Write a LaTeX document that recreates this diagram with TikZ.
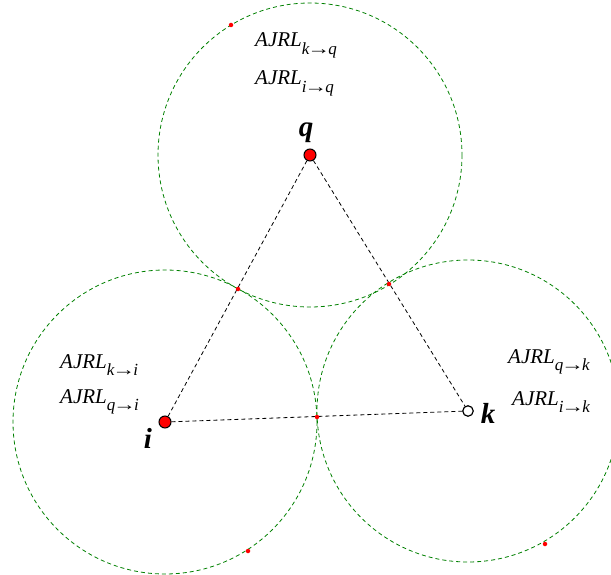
\documentclass[tikz,border=0pt]{standalone}
\usepackage{fontspec}
\setmainfont{Liberation Serif}
\newcommand\ajrl[2]{\textit{AJRL}\raisebox{-0.36em}{\fontsize{17}{17}\selectfont\textit{#1}\kern-2.2pt\scalebox{1.35}[1]{→}\kern-2pt\textit{#2}}}
\tikzset{
  ring/.style={draw=green!50!black, dashed, dash pattern=on 4pt off 3pt, line width=0.8pt},
  link/.style={draw=black, dash pattern=on 4pt off 3pt, line width=0.8pt},
  agent/.style={circle, draw=black, fill=red, line width=1pt, minimum size=12pt, inner sep=0pt},
  openagent/.style={circle, draw=black, fill=white, line width=1.2pt, minimum size=10.5pt, inner sep=0pt},
  pt/.style={circle, fill=red, minimum size=4.5pt, inner sep=0pt},
  lbl/.style={font=\fontsize{29}{29}\selectfont\bfseries\itshape, inner sep=0pt},
  txt/.style={font=\fontsize{21}{21}\selectfont, inner sep=0pt, anchor=base west}
}
\begin{document}
\begin{tikzpicture}[x=1pt,y=-1pt]
\useasboundingbox (0,0) rectangle (611,575);
\draw[ring] (310,155) circle[radius=152];
\draw[ring] (165,422) circle[radius=152];
\draw[ring] (468,411) circle[radius=151];
\node[agent] (q) at (310,155) {};
\node[agent] (i) at (165,422) {};
\node[openagent] (k) at (468,411) {};
\draw[link] (q) -- (i);
\draw[link] (q) -- (k);
\draw[link] (i) -- (k);
\node[pt] (m1) at (238,289) {};
\node[pt] (m2) at (389,284) {};
\node[pt] (m3) at (317,417) {};
\node[pt] (r1) at (231,25) {};
\node[pt] (r2) at (248,551) {};
\node[pt] (r3) at (545,544) {};
\node[lbl] (lq) at (306,133) {q};
\node[lbl] (li) at (148,438) {i};
\node[lbl] (lk) at (488,413) {k};
\node[txt] (t1) at (255,47) {\ajrl{k}{q}};
\node[txt] (t2) at (255,85) {\ajrl{i}{q}};
\node[txt] (t3) at (60,368) {\ajrl{k}{i}};
\node[txt] (t4) at (60,403) {\ajrl{q}{i}};
\node[txt] (t5) at (508,363) {\ajrl{q}{k}};
\node[txt] (t6) at (512,405) {\ajrl{i}{k}};
\end{tikzpicture}
\end{document}
